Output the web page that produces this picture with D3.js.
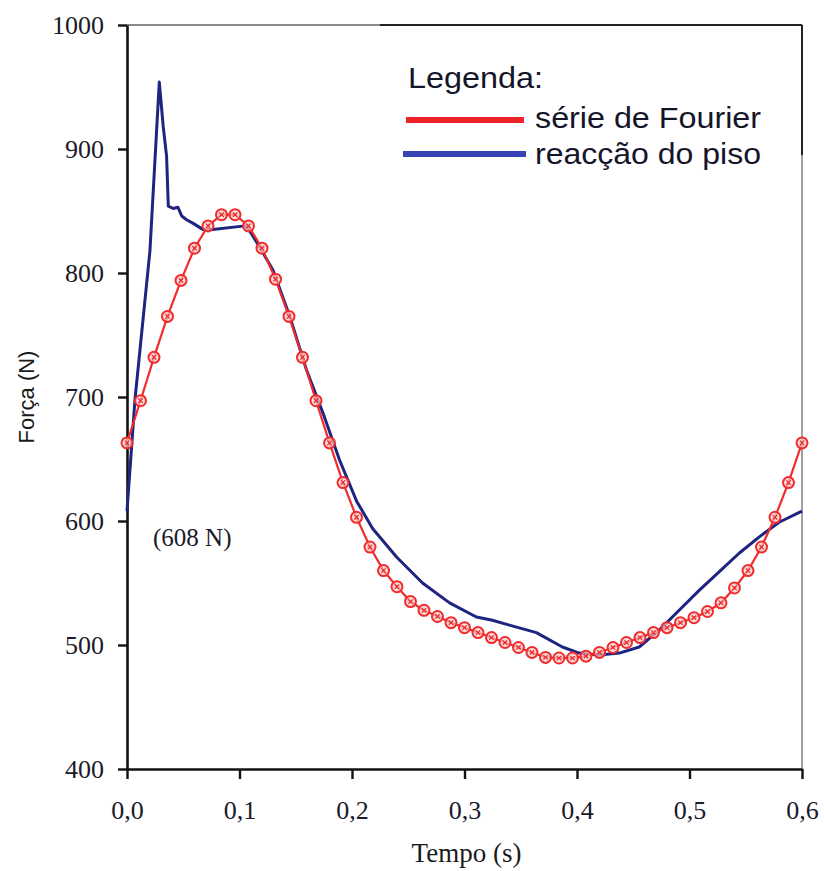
<!DOCTYPE html>
<html>
<head>
<meta charset="utf-8">
<script src="https://cdn.jsdelivr.net/npm/d3@7"></script>
<style>
  html, body { margin: 0; padding: 0; background: #fff; }
  svg { display: block; }
</style>
</head>
<body>
<svg id="chart" width="824" height="871"></svg>
<script>
// Fourier series samples: one every 0.012 s over a 0.6 s step
const fourierStep = 0.012;
const fourierValues = [
  663, 697, 732, 765, 794, 820, 838, 847, 847, 838,
  820, 795, 765, 732, 697, 663, 631, 603, 579, 560,
  547, 535, 528, 523, 518, 514, 510, 506, 502, 498,
  494, 490, 489.5, 489.5, 491, 494, 498, 502, 506, 510,
  514, 518, 522, 527, 534, 546, 560, 579, 603, 631,
  663
];

// Measured floor reaction (time in s, force in N)
const floorTimes = [
  0.000, 0.0071, 0.0204, 0.0287, 0.0322, 0.0352, 0.0367, 0.0411, 0.0453, 0.0486,
  0.0530, 0.0588, 0.0677, 0.0763, 0.1047, 0.1077, 0.1198, 0.1299, 0.1447, 0.1595,
  0.1742, 0.1890, 0.2041, 0.2183, 0.2396, 0.2627, 0.2867, 0.3106, 0.3248, 0.3399,
  0.3639, 0.3870, 0.4020, 0.4198, 0.4376, 0.4553, 0.4731, 0.4908, 0.5086, 0.5263,
  0.5441, 0.5618, 0.5796, 0.6000
];
const floorValues = [
  608, 698, 818, 954, 918, 894, 854, 852, 853, 846,
  843, 840, 835, 835, 838, 836, 818, 802, 765, 722,
  687, 649, 616, 594, 571, 550, 534, 522.6, 520, 516,
  510, 498.4, 493.5, 492, 493.5, 498.4, 512, 528, 544, 559,
  574, 587, 599, 608
];

const xTicks = [0, 0.1, 0.2, 0.3, 0.4, 0.5, 0.6];
const yTicks = [400, 500, 600, 700, 800, 900, 1000];

const legendTitle = "Legenda:";
const legendLabels = ["série de Fourier", "reacção do piso"];
const xTitle = "Tempo (s)";
const yTitle = "Força (N)";
const startNote = "(608 N)";

const svg = d3.select("#chart");
const plotLeft = 127, plotRight = 802, plotTop = 25, plotBottom = 769;

const x = d3.scaleLinear().domain([0, 0.6]).range([plotLeft, plotRight]);
const y = d3.scaleLinear().domain([400, 1000]).range([plotBottom, plotTop]);

const serif = "'Liberation Serif', 'Times New Roman', serif";
const sans = "'Liberation Sans', Arial, sans-serif";

// frame: top and right edges
svg.append("line").attr("x1", plotLeft).attr("x2", 380).attr("y1", plotTop).attr("y2", plotTop)
  .attr("stroke", "#8a8a8a").attr("stroke-width", 2);
svg.append("line").attr("x1", 380).attr("x2", plotRight).attr("y1", plotTop).attr("y2", plotTop)
  .attr("stroke", "#222").attr("stroke-width", 2);
svg.append("line").attr("x1", plotRight).attr("x2", plotRight).attr("y1", plotTop).attr("y2", 155)
  .attr("stroke", "#222").attr("stroke-width", 2);
svg.append("line").attr("x1", plotRight).attr("x2", plotRight).attr("y1", 155).attr("y2", plotBottom)
  .attr("stroke", "#8a8a8a").attr("stroke-width", 1.6);

const fmtX = d => d3.format(".1f")(d).replace(".", ",");

const xAxis = svg.append("g")
  .attr("transform", `translate(0,${plotBottom})`)
  .call(d3.axisBottom(x).tickValues(xTicks).tickFormat(fmtX).tickSize(10).tickSizeOuter(0).tickPadding(22));
const yAxis = svg.append("g")
  .attr("transform", `translate(${plotLeft},0)`)
  .call(d3.axisLeft(y).tickValues(yTicks).tickFormat(d3.format("d")).tickSize(9).tickSizeOuter(0).tickPadding(14));

[xAxis, yAxis].forEach(g => {
  g.select(".domain").attr("stroke", "#111").attr("stroke-width", 2.6);
  g.selectAll(".tick line").attr("stroke", "#111").attr("stroke-width", 2.4);
  g.selectAll(".tick text").attr("font-family", serif).attr("font-size", 26).attr("fill", "#1a1a2a");
});
yAxis.selectAll(".tick text").attr("dy", "0.33em");

// axis titles
svg.append("text").attr("x", (plotLeft + plotRight) / 2 + 2).attr("y", 862)
  .attr("text-anchor", "middle").attr("font-family", serif).attr("font-size", 27)
  .attr("fill", "#1a1a1a").text(xTitle);
svg.append("text")
  .attr("transform", `translate(34,397) rotate(-90)`)
  .attr("text-anchor", "middle").attr("font-family", sans).attr("font-size", 22)
  .attr("fill", "#1a1a1a").text(yTitle);

// floor reaction curve
const floorData = floorTimes.map((t, i) => ({ t, v: floorValues[i] }));
svg.append("path").datum(floorData)
  .attr("fill", "none").attr("stroke", "#1e2480").attr("stroke-width", 3)
  .attr("stroke-linejoin", "round")
  .attr("d", d3.line().x(d => x(d.t)).y(d => y(d.v)));

// Fourier series curve with markers
const fourierData = fourierValues.map((v, i) => ({ t: i * fourierStep, v }));
svg.append("path").datum(fourierData)
  .attr("fill", "none").attr("stroke", "#f02c2c").attr("stroke-width", 2.2)
  .attr("d", d3.line().x(d => x(d.t)).y(d => y(d.v)));

const marks = svg.append("g").selectAll("g").data(fourierData).join("g")
  .attr("transform", d => `translate(${x(d.t)},${y(d.v)})`);
marks.append("circle").attr("r", 5.5)
  .attr("fill", "#fbcaca").attr("fill-opacity", 0.7)
  .attr("stroke", "#f02c2c").attr("stroke-width", 2);
marks.append("path").attr("d", "M-2.2,-2.2L2.2,2.2M-2.2,2.2L2.2,-2.2")
  .attr("stroke", "#e82828").attr("stroke-width", 1.2);

// start value note
svg.append("text").attr("x", 153).attr("y", 546)
  .attr("font-family", serif).attr("font-size", 25).attr("fill", "#1a1a2a")
  .text(startNote);

// legend
const legend = svg.append("g");
legend.append("text").attr("x", 408).attr("y", 88)
  .attr("font-family", sans).attr("font-size", 30).attr("fill", "#15152a")
  .attr("textLength", 135).attr("lengthAdjust", "spacingAndGlyphs").text(legendTitle);
const legendColors = ["#ec2229", "#3742b5"];
const legendRows = [120, 154];
const legendBaselines = [128, 164];
legendLabels.forEach((lab, i) => {
  legend.append("line")
    .attr("x1", i === 0 ? 406 : 403).attr("x2", i === 0 ? 524 : 526)
    .attr("y1", legendRows[i]).attr("y2", legendRows[i])
    .attr("stroke", legendColors[i]).attr("stroke-width", 6);
  legend.append("text").attr("x", 535).attr("y", legendBaselines[i])
    .attr("font-family", sans).attr("font-size", 30).attr("fill", "#15152a")
    .attr("textLength", 226).attr("lengthAdjust", "spacingAndGlyphs").text(lab);
});
</script>
</body>
</html>
